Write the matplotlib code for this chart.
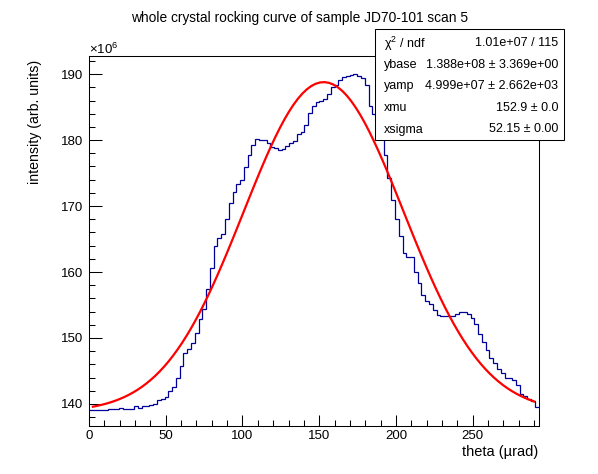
import numpy as np
import matplotlib
matplotlib.use("Agg")
import matplotlib.pyplot as plt
from matplotlib.patches import Rectangle

plt.rcParams['font.family'] = ['Liberation Sans', 'DejaVu Sans']
plt.rcParams['mathtext.fontset'] = 'custom'
plt.rcParams['mathtext.rm'] = 'Liberation Sans'
plt.rcParams['mathtext.it'] = 'Liberation Sans:italic'

# histogram: 119 bins over theta [0, 292.9] urad, contents in units of 1e6
theta_min, theta_max = 0.0, 292.9
counts = [
    139.14, 139.14, 139.14, 139.14, 139.14, 139.20, 139.20, 139.20, 139.40, 139.20,
    139.20, 139.20, 139.70, 139.40, 139.70, 139.70, 139.85, 140.05, 140.66, 140.76,
    141.10, 141.90, 142.60, 143.95, 145.80, 147.75, 148.40, 149.30, 150.70, 152.90,
    154.40, 157.50, 160.60, 164.00, 165.10, 165.70, 168.10, 170.40, 172.20, 173.30,
    173.90, 175.90, 177.80, 179.20, 180.10, 180.00, 180.00, 179.50, 178.90, 178.80,
    178.45, 178.65, 179.05, 179.50, 179.80, 181.00, 181.30, 182.25, 184.10, 185.20,
    185.85, 185.90, 186.20, 186.95, 188.00, 188.40, 189.10, 189.50, 189.75, 189.90,
    189.95, 189.75, 189.40, 188.40, 185.10, 183.90, 182.20, 180.60, 177.70, 174.20,
    170.95, 168.10, 165.50, 162.95, 162.30, 162.30, 160.00, 158.40, 156.50, 155.55,
    155.15, 154.20, 153.50, 153.40, 153.30, 153.30, 153.40, 153.70, 153.90, 153.90,
    153.70, 153.00, 152.05, 150.60, 149.40, 148.20, 146.90, 146.20, 145.30, 144.70,
    144.00, 143.95, 143.70, 142.80, 141.50, 141.20, 140.80, 140.40, 139.50,
]

# gaussian fit result (from the stats box)
ybase = 1.388e8
yamp = 4.999e7
xmu = 152.9
xsigma = 52.15
fit_range = (2.5, 290.0)

stat_names = ["χ$^{2}$ / ndf", "ybase", "yamp", "xmu", "xsigma"]
stat_values = ["1.01e+07 / 115", "1.388e+08 ± 3.369e+00", "4.999e+07 ± 2.662e+03",
               "152.9 ± 0.0", "52.15 ± 0.00"]

W, H = 598, 474
fig = plt.figure(figsize=(W / 100, H / 100), dpi=100)
ax = fig.add_axes([89 / W, 1 - 425.7 / H, (538.5 - 89) / W, (425.7 - 56) / H])

edges = np.linspace(theta_min, theta_max, len(counts) + 1)
ax.stairs(counts, edges, baseline=None, color='#000099', lw=0.9)

xf = np.linspace(fit_range[0], fit_range[1], 100)
yf = (ybase + yamp * np.exp(-0.5 * ((xf - xmu) / xsigma) ** 2)) / 1e6
ax.plot(xf, yf, color='#ff0000', lw=1.6)

ax.set_xlim(theta_min, theta_max)
ax.set_ylim(136.7, 192.75)
ax.set_xticks(np.arange(0, 300, 50))
ax.set_xticks(np.arange(0, 293, 10), minor=True)
ax.set_yticks(np.arange(140, 191, 10))
ax.set_yticks(np.arange(138, 193, 2), minor=True)
ax.tick_params(axis='both', which='both', direction='in', width=0.75,
               top=False, right=False, labelsize=9.5, color='black')
ax.tick_params(axis='y', which='major', length=9.3, pad=4)
ax.tick_params(axis='y', which='minor', length=4.5)
ax.tick_params(axis='x', which='major', length=8, pad=3)
ax.tick_params(axis='x', which='minor', length=4)
for s in ax.spines.values():
    s.set_linewidth(0.75)

fig.text(299.5 / W, 1 - 18 / H, "whole crystal rocking curve of sample JD70-101 scan 5",
         ha='center', va='center', fontsize=9.9)
fig.text(35 / W, 1 - 60 / H, "intensity (arb. units)", rotation=90,
         ha='center', va='top', fontsize=10.2)
fig.text(538 / W, 1 - 452 / H, "theta (µrad)", ha='right', va='center', fontsize=10.5)
fig.text(89 / W, 1 - 54 / H, "×10$^{6}$", ha='left', va='baseline', fontsize=9.5)

# stats box
bx0, by0, bx1, by1 = 375, 29, 564, 140
fig.patches.append(Rectangle((bx0 / W, 1 - by1 / H), (bx1 - bx0) / W, (by1 - by0) / H,
                             transform=fig.transFigure, facecolor='white',
                             edgecolor='black', lw=0.75, zorder=5))
row_y = [43.5, 65, 86.5, 108, 129.5]
for name, val, yy in zip(stat_names, stat_values, row_y):
    fig.text(384 / W, 1 - yy / H, name, ha='left', va='center', fontsize=9, zorder=6)
    fig.text(558 / W, 1 - yy / H, val, ha='right', va='center', fontsize=9, zorder=6)

fig.savefig("out.png", dpi=100)
